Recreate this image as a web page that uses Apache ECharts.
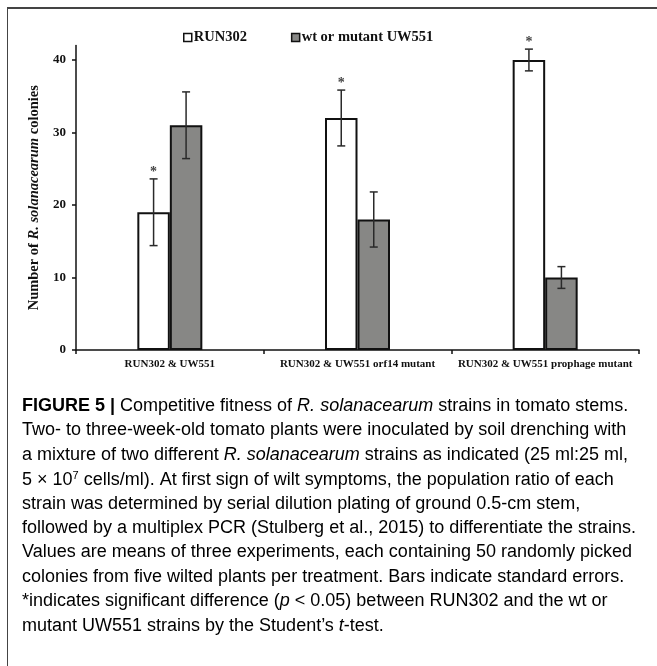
<!DOCTYPE html>
<html><head><meta charset="utf-8">
<script src="https://cdn.jsdelivr.net/npm/echarts@6/dist/echarts.min.js"></script>
<style>
html,body{margin:0;padding:0;background:#fff;}
#chart{width:657px;height:666px;position:absolute;left:0;top:0;}
#frame{position:absolute;left:7px;top:7px;width:660px;height:670px;border-left:1.5px solid #444;border-top:2px solid #444;pointer-events:none;}
</style></head><body>
<div id="chart"></div><div id="frame"></div>
<script>
const categories = ['RUN302 & UW551', 'RUN302 & UW551 orf14 mutant', 'RUN302 & UW551 prophage mutant'];
const seriesNames = ['RUN302', 'wt or mutant UW551'];
const run302 = [19, 32, 40];
const uw551 = [31, 18, 10];
const run302Err = [4.6, 3.85, 1.5];
const uw551Err = [4.6, 3.8, 1.5];
const significant = [1, 1, 1];
const yTicks = [0, 10, 20, 30, 40];

const BAR_W = 32.5, CAP = 4;
const SERIF = '"Liberation Serif","Times New Roman",serif';
const SANS = '"Liberation Sans",Arial,sans-serif';

function errData(vals, errs, sig) {
  return vals.map((v, i) => [i, v - errs[i], v + errs[i], sig ? sig[i] : 0]);
}
function errRender(side) {
  return function (params, api) {
    const i = api.value(0);
    const hi = api.coord([i, api.value(2)]);
    const lo = api.coord([i, api.value(1)]);
    const x = hi[0] + side * BAR_W / 2;
    const st = { stroke: '#2a2a2a', lineWidth: 1.5 };
    const children = [
      { type: 'line', shape: { x1: x, y1: hi[1], x2: x, y2: lo[1] }, style: st },
      { type: 'line', shape: { x1: x - CAP, y1: hi[1], x2: x + CAP, y2: hi[1] }, style: st },
      { type: 'line', shape: { x1: x - CAP, y1: lo[1], x2: x + CAP, y2: lo[1] }, style: st }
    ];
    if (api.value(3)) {
      children.push({ type: 'text', style: { text: '*', x: x, y: hi[1] - 7, align: 'center', verticalAlign: 'middle', font: 'bold 14px ' + SERIF, fill: '#444' } });
    }
    return { type: 'group', children };
  };
}

const CAP_FS = 18;
const capStyle = { fontFamily: SANS, fontSize: CAP_FS, color: '#444444' };
const rich = {
  n: capStyle,
  b: Object.assign({}, capStyle, { fontWeight: 'bold', color: '#2a2a2a' }),
  i: Object.assign({}, capStyle, { fontStyle: 'italic' }),
  l: Object.assign({}, capStyle, { color: '#8a96a3' }),
  s: Object.assign({}, capStyle, { fontSize: 11, verticalAlign: 'top', lineHeight: 20 })
};
const captionLines = [
  '{b|FIGURE 5 |}{n| Competitive fitness of }{i|R. solanacearum}{n| strains in tomato stems.}',
  '{n|Two- to three-week-old tomato plants were inoculated by soil drenching with}',
  '{n|a mixture of two different }{i|R. solanacearum}{n| strains as indicated (25 ml:25 ml,}',
  '{n|5 × 10}{s|7}{n| cells/ml). At first sign of wilt symptoms, the population ratio of each}',
  '{n|strain was determined by serial dilution plating of ground 0.5-cm stem,}',
  '{n|followed by a multiplex PCR (}{l|Stulberg et al., 2015}{n|) to differentiate the strains.}',
  '{n|Values are means of three experiments, each containing 50 randomly picked}',
  '{n|colonies from five wilted plants per treatment. Bars indicate standard errors.}',
  '{n|*indicates significant difference (}{i|p}{n| < 0.05) between RUN302 and the wt or}',
  '{n|mutant UW551 strains by the Student\u2019s }{i|t}{n|-test.}'
];
const graphics = captionLines.map((t, k) => ({
  type: 'text', left: 22, top: 397 + k * 24.4,
  style: { text: t, rich: rich, font: CAP_FS + 'px ' + SANS }
}));

const chart = echarts.init(document.getElementById('chart'), null, { renderer: 'canvas' });
chart.setOption({
  animation: false,
  backgroundColor: 'transparent',
  legend: {
    data: seriesNames, left: 178, top: 25, itemWidth: 8, itemHeight: 8, itemGap: 44,
    icon: 'rect',
    textStyle: { fontFamily: SERIF, fontWeight: 'bold', fontSize: 14.5, color: '#111', padding: [0, 0, 0, -3] },
    itemStyle: { borderColor: '#111', borderWidth: 1.5 }
  },
  grid: { left: 76, right: 18, top: 45.5, bottom: 316, containLabel: false },
  xAxis: {
    type: 'category', data: categories, boundaryGap: true,
    axisLine: { show: true, lineStyle: { color: '#111', width: 1.5 } },
    axisTick: { show: true, length: 4, lineStyle: { color: '#111', width: 1.5 } },
    axisLabel: { margin: 9, fontFamily: SERIF, fontWeight: 'bold', fontSize: 11, color: '#111', interval: 0 }
  },
  yAxis: {
    type: 'value', min: 0, max: 42, interval: 10,
    name: '{b|Number of }{i|R. solanacearum}{b| colonies}',
    nameLocation: 'middle', nameGap: 31, nameRotate: 90,
    nameTextStyle: {
      rich: {
        b: { fontFamily: SERIF, fontWeight: 'bold', fontSize: 14.5, color: '#111' },
        i: { fontFamily: SERIF, fontWeight: 'bold', fontStyle: 'italic', fontSize: 14.5, color: '#111' }
      }
    },
    axisLine: { show: true, lineStyle: { color: '#111', width: 1.5 } },
    axisTick: { show: true, length: 4, customValues: yTicks, lineStyle: { color: '#111', width: 1.5 } },
    axisLabel: { customValues: yTicks, margin: 10, fontFamily: SERIF, fontWeight: 'bold', fontSize: 13, color: '#111' },
    splitLine: { show: false }
  },
  series: [
    { name: seriesNames[0], type: 'bar', data: run302, barWidth: BAR_W, barGap: '0%',
      itemStyle: { color: '#ffffff', borderColor: '#111', borderWidth: 2 } },
    { name: seriesNames[1], type: 'bar', data: uw551, barWidth: BAR_W, barGap: '0%',
      itemStyle: { color: '#878785', borderColor: '#111', borderWidth: 2 } },
    { type: 'custom', renderItem: errRender(-1), data: errData(run302, run302Err, significant), z: 10, encode: { x: 0, y: [1, 2] } },
    { type: 'custom', renderItem: errRender(1), data: errData(uw551, uw551Err, null), z: 10, encode: { x: 0, y: [1, 2] } }
  ],
  graphic: graphics
});
</script>
</body></html>
